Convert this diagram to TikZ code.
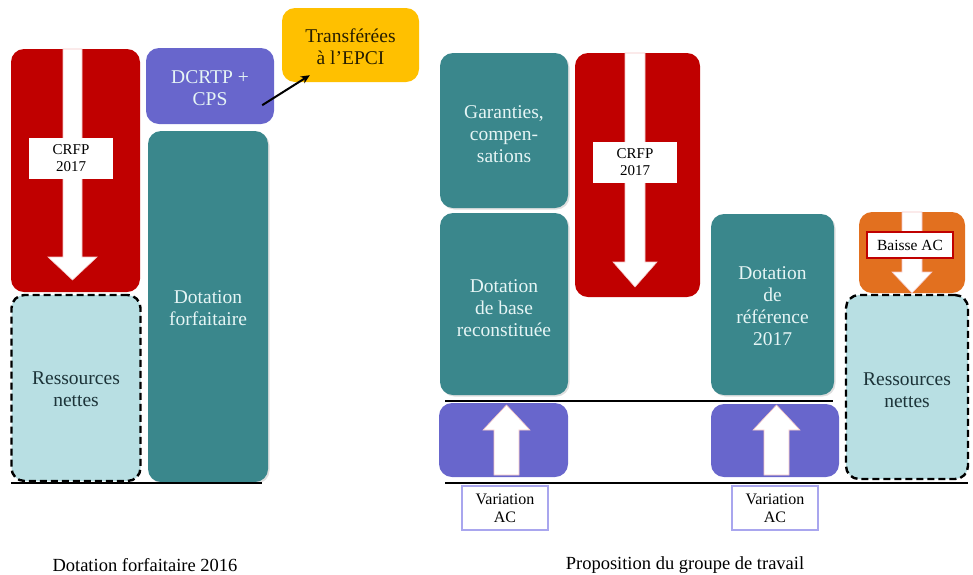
\documentclass[tikz,border=0pt]{standalone}
\usepackage{fontspec}
\setmainfont{Liberation Serif}
\usetikzlibrary{calc,arrows.meta,shadows}

\definecolor{crfpred}{HTML}{C00000}
\definecolor{tealbox}{HTML}{3A878C}
\definecolor{purplebox}{HTML}{6866CC}
\definecolor{goldbox}{HTML}{FFC000}
\definecolor{orangebox}{HTML}{E2701F}
\definecolor{paleblue}{HTML}{B8DFE3}
\definecolor{paletext}{HTML}{E6F5F5}
\definecolor{darktext}{HTML}{1C3338}
\definecolor{lilac}{HTML}{A9A6EE}
\definecolor{arrowrim}{HTML}{F4C4C4}

\tikzset{
  block/.style={rounded corners=13pt, inner sep=0pt, anchor=center, draw=none},
  redblock/.style={block, fill=crfpred},
  tealblock/.style={block, fill=tealbox,
    drop shadow={shadow xshift=1.5pt, shadow yshift=-1.5pt, opacity=0.25}},
  purpleblock/.style={block, fill=purplebox},
  goldblock/.style={block, fill=goldbox},
  orangeblock/.style={block, fill=orangebox},
  netblock/.style={block, fill=paleblue, draw=black, line width=2.4pt,
    dash pattern=on 7pt off 4pt},
  boxtext/.style={align=center, inner sep=0pt, font=\fontsize{19.5}{22}\selectfont},
  lighttext/.style={boxtext, text=paletext},
  darkboxtext/.style={boxtext, text=darktext},
  tag/.style={fill=white, inner sep=0pt, align=center, anchor=center,
    font=\fontsize{15}{17}\selectfont},
  whitearrow/.style={fill=white, draw=arrowrim, line width=0.6pt},
  groundline/.style={line width=2.4pt, black},
  caption/.style={font=\fontsize{18.5}{21}\selectfont, inner sep=0pt}
}

\begin{document}
\begin{tikzpicture}[x=1pt, y=-1pt]
\useasboundingbox (0,0) rectangle (973,574);

% ---------- Dotation forfaitaire 2016 ----------
\node[redblock, minimum width=129pt, minimum height=243pt] (crfpL) at (75.5,170.5) {};
\fill[whitearrow] (63,49) -- (82,49) -- (82,257) -- (97,257) -- (72.5,280)
  -- (48,257) -- (63,257) -- cycle;
\node[tag, minimum width=84pt, minimum height=41pt] (crfpLtag) at (71,158.5) {CRFP\\2017};

\node[netblock, minimum width=129pt, minimum height=186pt] (resL) at (76,388) {};
\node[darkboxtext] (resLtxt) at (76,389) {Ressources\\nettes};

\node[tealblock, minimum width=120pt, minimum height=351pt] (dfL) at (208,306.5) {};
\node[lighttext] (dfLtxt) at (208,308) {Dotation\\forfaitaire};

\node[purpleblock, minimum width=128pt, minimum height=76pt] (dcrtp) at (210,86) {};
\node[boxtext, text=paletext] (dcrtptxt) at (210,88) {DCRTP +\\CPS};

\node[goldblock, minimum width=137pt, minimum height=74pt] (epci) at (350.5,45) {};
\node[boxtext, text=black!85!goldbox] (epcitxt) at (350.5,47) {Transférées\\à l’EPCI};

\draw[line width=2pt, -{Stealth[length=9pt,width=8pt]}]
  ($(dcrtp.south east)+(-12,-19)$) -- ($(epci.south west)+(28,-7)$);

\coordinate (gL1) at (11,483);
\coordinate (gL2) at (262,483);
\draw[groundline] (gL1) -- (gL2);

\node[caption] (capL) at (145,565) {Dotation forfaitaire 2016};

% ---------- Proposition du groupe de travail ----------
\node[tealblock, minimum width=128pt, minimum height=155pt] (gar) at (504,130.5) {};
\node[lighttext] (gartxt) at (504,134) {Garanties,\\compen-\\sations};

\node[tealblock, minimum width=128pt, minimum height=182pt] (dbr) at (504,304) {};
\node[lighttext] (dbrtxt) at (504,308) {Dotation\\de base\\reconstituée};

\node[redblock, minimum width=125pt, minimum height=244pt] (crfpR) at (637.5,175) {};
\fill[whitearrow] (625,53) -- (645,53) -- (645,262) -- (657,262) -- (635,287)
  -- (613,262) -- (625,262) -- cycle;
\node[tag, minimum width=84pt, minimum height=41pt] (crfpRtag) at (635,162.5) {CRFP\\2017};

\node[tealblock, minimum width=123pt, minimum height=181pt] (dref) at (772.5,304.5) {};
\node[lighttext] (dreftxt) at (772.5,306) {Dotation\\de\\référence\\2017};

\node[orangeblock, minimum width=106pt, minimum height=81pt] (baisse) at (912,252.5) {};
\fill[whitearrow] (902,212) -- (922,212) -- (922,272) -- (932,272) -- (912,293)
  -- (892,272) -- (902,272) -- cycle;
\node[tag, draw=crfpred, line width=1.5pt, minimum width=86pt, minimum height=26pt,
  font=\fontsize{15.5}{17}\selectfont] (baissetag) at (910,245) {Baisse AC};

\node[netblock, minimum width=122pt, minimum height=184pt] (resR) at (907,387) {};
\node[darkboxtext] (resRtxt) at (907,390) {Ressources\\nettes};

\node[purpleblock, minimum width=129pt, minimum height=74pt] (varA) at (503.5,440) {};
\fill[whitearrow] (494,475) -- (519,475) -- (519,430) -- (530,430) -- (506.5,405)
  -- (483,430) -- (494,430) -- cycle;
\node[purpleblock, minimum width=128pt, minimum height=73pt] (varB) at (775,440.5) {};
\fill[whitearrow] (764,475) -- (789,475) -- (789,430) -- (800,430) -- (776.5,405)
  -- (753,430) -- (764,430) -- cycle;

\coordinate (gR1) at (445,401);
\coordinate (gR2) at (833,401);
\coordinate (gR3) at (445,483);
\coordinate (gR4) at (968,483);
\draw[groundline] (gR1) -- (gR2);
\draw[groundline] (gR3) -- (gR4);

\node[tag, draw=lilac, line width=1.5pt, minimum width=86pt, minimum height=44pt,
  font=\fontsize{16}{18}\selectfont] (varAtag) at (505,508) {Variation\\AC};
\node[tag, draw=lilac, line width=1.5pt, minimum width=86pt, minimum height=44pt,
  font=\fontsize{16}{18}\selectfont] (varBtag) at (775,508) {Variation\\AC};

\node[caption] (capR) at (685,565) {Proposition du groupe de travail};
\end{tikzpicture}
\end{document}
